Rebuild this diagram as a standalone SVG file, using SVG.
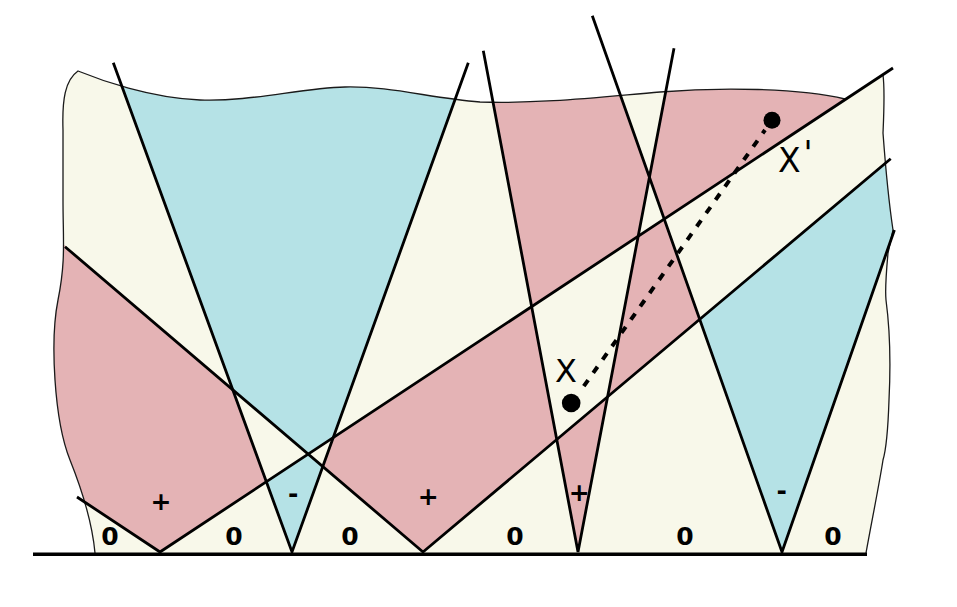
<svg xmlns="http://www.w3.org/2000/svg" width="957" height="607" viewBox="0 0 957 607">
<style>
.cream{fill:#F8F8EA}
.blue{fill:#B5E2E6}
.pink{fill:#E4B3B5}
.edge{fill:none;stroke:#1a1a1a;stroke-width:1.3}
.ln{fill:none;stroke:#000;stroke-width:2.8;stroke-linejoin:miter;stroke-linecap:butt}
.base{fill:none;stroke:#000;stroke-width:3.6}
.val{font-family:"DejaVu Sans","Liberation Sans",sans-serif;font-weight:bold;font-size:25px;text-anchor:middle;fill:#000}
.pt{font-family:"DejaVu Sans","Liberation Sans",sans-serif;fill:#000}
.dash{fill:none;stroke:#000;stroke-width:4;stroke-dasharray:7.5 8.8}
</style>
<defs>
<clipPath id="paperClip">
<path id="paperShape" d="M95,553 C92,520 82,490 70,460 C54,420 50,340 58,300 C66,260 63,240 63,200 L63,130 C62,100 65,80 78,71 C100,80 150,98 200,100 C250,102 300,88 345,87 C390,86 430,98 480,102 C540,104 600,97 660,92 C720,87 800,88 845,99 L883,75 C885,90 884,110 883,133 C885,160 890,210 893,230 L888,253 C886,275 885,290 886,300 C890,330 891,360 889,400 C888,430 886,450 883,460 C880,480 872,520 866,553 Z"/>
</clipPath>
</defs>

<g id="paper">
<use href="#paperShape" class="cream"/>
</g>

<g id="regions" clip-path="url(#paperClip)">
<polygon id="blue-top" class="blue" points="113.3,60 469.7,60 333.4,437.4 308.3,454 232.8,389.2"/>
<polygon id="blue-minus1" class="blue" points="266.4,481.7 308.3,454 322.9,466.3 292,552"/>
<polygon id="blue-right" class="blue" points="782,552 699.7,319.3 905,146.6 905,230 894.4,230"/>
<polygon id="pink-left" class="pink" points="40,224.3 232.8,389.2 266.4,481.7 160,552 40,472.5"/>
<polygon id="pink-mid" class="pink" points="423,552 322.9,466.3 333.4,437.4 531.6,306.4 556.7,439.6"/>
<polygon id="pink-narrow" class="pink" points="578,552 556.7,439.6 607.5,396.8"/>
<polygon id="pink-band" class="pink" points="607.5,396.8 638.3,235.8 664.1,218.8 699.7,319.3"/>
<polygon id="pink-upper" class="pink" points="481.3,40 600.9,40 649.4,177.2 638.3,235.8 531.6,306.4"/>
<polygon id="pink-topright" class="pink" points="675.6,40 649.4,177.2 664.1,218.8 893,68 893,40"/>
</g>

<g id="paper-edge">
<path class="edge" d="M95,553 C92,520 82,490 70,460 C54,420 50,340 58,300 C66,260 63,240 63,200 L63,130 C62,100 65,80 78,71 C100,80 150,98 200,100 C250,102 300,88 345,87 C390,86 430,98 480,102 C540,104 600,97 660,92 C720,87 800,88 845,99"/>
<path class="edge" d="M883,75 C885,90 884,110 883,133 C885,160 890,210 893,230 L888,253 C886,275 885,290 886,300 C890,330 891,360 889,400 C888,430 886,450 883,460 C880,480 872,520 866,553"/>
</g>

<g id="connectors">
<polyline id="wedge-A" class="ln" points="77,497 160,552 893,68"/>
<polyline id="wedge-B" class="ln" points="113.3,62.7 292,552 468.3,62.7"/>
<polyline id="wedge-C" class="ln" points="65,246.7 423,552 890.7,158.7"/>
<polyline id="wedge-D" class="ln" points="483.3,50.7 578,552 674,48.3"/>
<polyline id="wedge-E" class="ln" points="592.3,15.7 782,552 894.4,230"/>
<line id="baseline" class="base" x1="33" y1="554.3" x2="867" y2="554.3"/>
<line id="path-x-xprime" class="dash" x1="583.8" y1="386.2" x2="765" y2="130"/>
</g>

<g id="labels">
<text class="val" x="110" y="544.5">0</text>
<text class="val" x="234" y="544.5">0</text>
<text class="val" x="350" y="544.5">0</text>
<text class="val" x="515" y="544.5">0</text>
<text class="val" x="685" y="544.5">0</text>
<text class="val" x="833" y="544.5">0</text>
<text class="val" x="161" y="509.7">+</text>
<text class="val" x="428.3" y="504.7">+</text>
<text class="val" x="579.3" y="500.7">+</text>
<text class="val" x="293.3" y="501.8">-</text>
<text class="val" x="781.7" y="498.5">-</text>
</g>

<g id="point-X">
<circle cx="571.2" cy="403" r="9.3" fill="#000"/>
<text class="pt" x="566" y="381.7" font-size="32" text-anchor="middle">X</text>
</g>

<g id="point-Xprime">
<circle cx="772" cy="120.3" r="8.5" fill="#000"/>
<text class="pt" x="778" y="171.7" font-size="33">X<tspan dx="3" dy="-6.5">'</tspan></text>
</g>
</svg>
